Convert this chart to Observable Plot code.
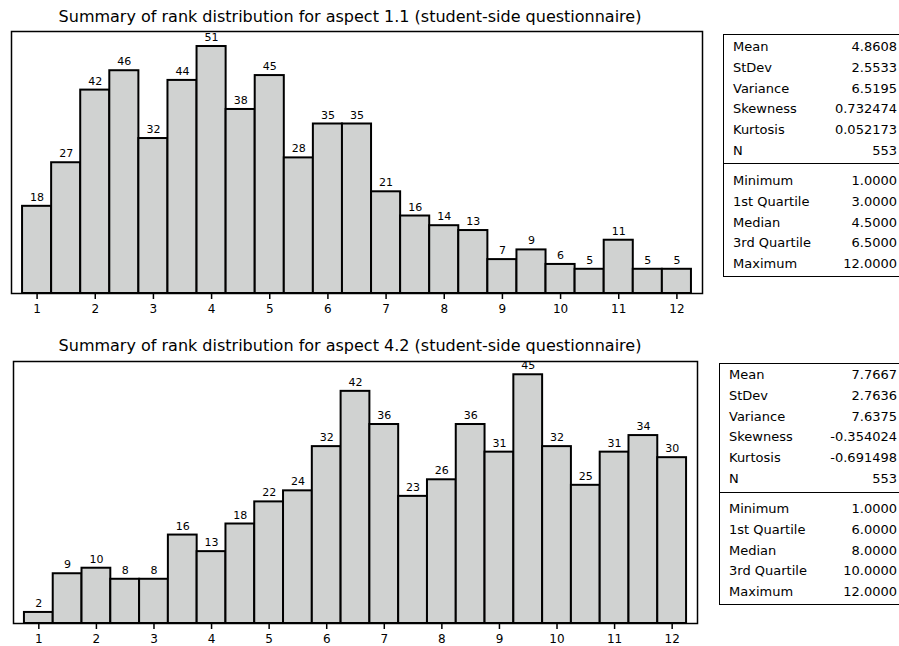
<!DOCTYPE html>
<html><head><meta charset="utf-8">
<script src="https://cdn.jsdelivr.net/npm/d3@7"></script>
<script src="https://cdn.jsdelivr.net/npm/@observablehq/plot@0.6"></script>
<style>
body{margin:0;background:#fff;}
#root{position:relative;width:899px;height:646px;overflow:hidden;font-family:"DejaVu Sans",sans-serif;color:#000;}
.title{position:absolute;left:0;width:700px;text-align:center;font-size:16px;white-space:nowrap;line-height:18px;}
.chart{position:absolute;left:0;}
.box{position:absolute;border:1.5px solid #000;background:#fff;width:200px;box-sizing:border-box;}
.row{position:absolute;left:9px;height:18px;line-height:18px;font-size:13px;white-space:nowrap;}
.row .v{position:absolute;right:0;top:0;}
.div{position:absolute;left:0;right:0;border-top:1.5px solid #000;}
</style></head>
<body><div id="root"></div>
<script>
const binCenters = [1,1.5,2,2.5,3,3.5,4,4.5,5,5.5,6,6.5,7,7.5,8,8.5,9,9.5,10,10.5,11,11.5,12];
const counts1 = [18,27,42,46,32,44,51,38,45,28,35,35,21,16,14,13,7,9,6,5,11,5,5];
const counts2 = [2,9,10,8,8,16,13,18,22,24,32,42,36,23,26,36,31,45,32,25,31,34,30];
const xTicks = [1,2,3,4,5,6,7,8,9,10,11,12];
const titles = [
  "Summary of rank distribution for aspect 1.1 (student-side questionnaire)",
  "Summary of rank distribution for aspect 4.2 (student-side questionnaire)"
];
const statLabelsA = ["Mean","StDev","Variance","Skewness","Kurtosis","N"];
const statLabelsB = ["Minimum","1st Quartile","Median","3rd Quartile","Maximum"];
const statsA1 = ["4.8608","2.5533","6.5195","0.732474","0.052173","553"];
const statsB1 = ["1.0000","3.0000","4.5000","6.5000","12.0000"];
const statsA2 = ["7.7667","2.7636","7.6375","-0.354024","-0.691498","553"];
const statsB2 = ["1.0000","6.0000","8.0000","10.0000","12.0000"];

const root = document.getElementById("root");
const FONT = '"DejaVu Sans", sans-serif';

function histogram(counts, cfg) {
  const data = binCenters.map((c, i) => ({c, x1: c - 0.25, x2: c + 0.25, n: counts[i]}));
  return Plot.plot({
    width: cfg.width, height: cfg.height,
    marginTop: cfg.mt, marginBottom: cfg.mb, marginLeft: cfg.ml, marginRight: cfg.mr,
    style: {fontFamily: FONT, fontSize: "12px", color: "#000", background: "transparent"},
    x: {domain: [0.56, 12.44], axis: null},
    y: {domain: [0, cfg.ymax], axis: null},
    marks: [
      Plot.rectY(data, {x1: "x1", x2: "x2", y: "n", fill: "#d0d2d1", stroke: "#000", strokeWidth: 2}),
      Plot.text(data, {x: "c", y: "n", text: d => String(d.n), dy: -9, fontSize: 11, fill: "#000"}),
      Plot.axisX({ticks: xTicks, tickSize: 6, tickPadding: 5, strokeWidth: 1.5, tickFormat: d => String(d), fontSize: 12, label: null}),
      Plot.frame({stroke: "#000", strokeWidth: 1.5})
    ]
  });
}

function addTitle(text, top) {
  const t = document.createElement("div");
  t.className = "title"; t.style.top = top + "px"; t.textContent = text;
  root.appendChild(t);
}
function addChart(svg, top) {
  const w = document.createElement("div");
  w.className = "chart"; w.style.top = top + "px";
  w.appendChild(svg); root.appendChild(w);
}
function addBox(cfg, labsA, valsA, labsB, valsB) {
  const b = document.createElement("div");
  b.className = "box";
  b.style.left = cfg.left + "px"; b.style.top = cfg.top + "px"; b.style.height = cfg.height + "px";
  const addRows = (labs, vals, first) => labs.forEach((l, i) => {
    const r = document.createElement("div"); r.className = "row";
    r.style.top = (first + i * cfg.step - 9) + "px";
    r.style.width = cfg.rowWidth + "px";
    r.innerHTML = "<span></span><span class='v'></span>";
    r.children[0].textContent = l; r.children[1].textContent = vals[i];
    b.appendChild(r);
  });
  addRows(labsA, valsA, cfg.firstA);
  const d = document.createElement("div"); d.className = "div"; d.style.top = cfg.divider + "px"; b.appendChild(d);
  addRows(labsB, valsB, cfg.firstB);
  root.appendChild(b);
}

addTitle(titles[0], 8);
addChart(histogram(counts1, {width: 720, height: 320, mt: 31, mb: 27, ml: 11, mr: 18, ymax: 54.1}), 0);
addBox({left: 723, top: 34, height: 243, rowWidth: 164, firstA: 12, step: 20.8, divider: 128, firstB: 146}, statLabelsA, statsA1, statLabelsB, statsB1);

addTitle(titles[1], 337);
addChart(histogram(counts2, {width: 720, height: 316, mt: 31, mb: 23, ml: 13, mr: 23, ymax: 47.4}), 330);
addBox({left: 719, top: 363, height: 242, rowWidth: 168, firstA: 11, step: 20.8, divider: 128, firstB: 145}, statLabelsA, statsA2, statLabelsB, statsB2);
</script></body></html>
